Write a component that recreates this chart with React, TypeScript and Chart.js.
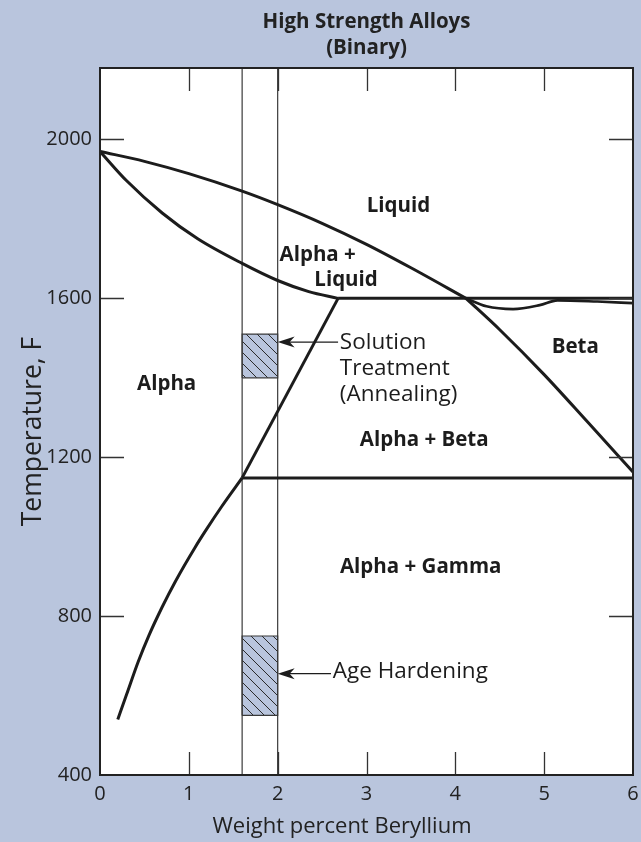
import React, { useEffect, useRef } from "react";
import { Chart, registerables } from "chart.js";

Chart.register(...registerables);

// ---- axes ----
const xTicks = [0, 1, 2, 3, 4, 5, 6];
const yTicks = [400, 800, 1200, 1600, 2000];
const xMin = 0;
const xMax = 6;
const yMin = 400;
const yMax = 2180;

// ---- phase boundaries (wt% Be, °F) ----
const liquidusX = [0, 0.5, 1.0, 1.6, 2.0, 2.5, 3.0, 3.5, 4.12];
const liquidusY = [1970, 1945, 1914, 1870, 1836, 1789, 1736, 1677, 1600];
const betaSolvusX = [4.12, 4.5, 5.0, 5.5, 6.0];
const betaSolvusY = [1600, 1521, 1408, 1286, 1163];
const solidusX = [0, 0.3, 0.7, 1.1, 1.6, 2.0, 2.35, 2.68];
const solidusY = [1970, 1896, 1815, 1750, 1688, 1645, 1617, 1600];
const peritecticX = [2.68, 6.0];
const peritecticY = [1600, 1600];
const betaDipX = [4.12, 4.35, 4.65, 4.95, 5.15, 5.6, 6.0];
const betaDipY = [1600, 1580, 1573, 1583, 1595, 1592, 1588];
const alphaUpperX = [1.6, 2.68];
const alphaUpperY = [1148, 1600];
const alphaSolvusX = [0.2, 0.3, 0.43, 0.55, 0.7, 0.85, 1.07, 1.2, 1.37, 1.6];
const alphaSolvusY = [540, 603, 685, 751, 823, 888, 973, 1019, 1076, 1148];
const eutectoidX = [1.6, 6.0];
const eutectoidY = [1148, 1148];

// ---- alloy composition range and heat-treatment boxes ----
const alloyLimitsX = [1.6, 2.0];
const solutionBoxY = [1400, 1510];
const ageBoxY = [550, 750];

// ---- text ----
const titleLines = ["High Strength Alloys", "(Binary)"];
const xTitle = "Weight percent Beryllium";
const yTitle = "Temperature, F";
const regionLabels = ["Liquid", "Alpha +", "Liquid", "Beta", "Alpha", "Alpha + Beta", "Alpha + Gamma"];
const regionX = [3.36, 2.45, 2.77, 5.35, 0.75, 3.65, 3.61];
const regionY = [1831, 1708, 1645, 1476, 1383, 1244, 924];
const noteLabels = ["Solution", "Treatment", "(Annealing)", "Age Hardening"];
const noteX = [2.7, 2.7, 2.7, 2.62];
const noteY = [1489, 1423, 1358, 660];
const arrowFromX = [2.68, 2.6];
const arrowToX = [2.0, 2.0];
const arrowY = [1490, 655];

const BG = "#b9c5dd";
const INK = "#1c1c1c";
const FONT = "'Open Sans'";

const pts = (xs: number[], ys: number[]) => xs.map((x, i) => ({ x, y: ys[i] }));
const boxPts = (x0: number, x1: number, y0: number, y1: number) => [
  { x: x0, y: y0 },
  { x: x1, y: y0 },
  { x: x1, y: y1 },
  { x: x0, y: y1 },
  { x: x0, y: y0 },
];

export default function App() {
  const ref = useRef<HTMLCanvasElement | null>(null);

  useEffect(() => {
    document.body.style.margin = "0";
    document.body.style.background = BG;
    const canvas = ref.current!;
    const ctx0 = canvas.getContext("2d")!;

    const tile = document.createElement("canvas");
    tile.width = 11;
    tile.height = 11;
    const t = tile.getContext("2d")!;
    t.fillStyle = BG;
    t.fillRect(0, 0, 11, 11);
    t.strokeStyle = "#2a2a2a";
    t.lineWidth = 1;
    t.beginPath();
    t.moveTo(-2, -2);
    t.lineTo(13, 13);
    t.moveTo(-2, 9);
    t.lineTo(2, 13);
    t.moveTo(9, -2);
    t.lineTo(13, 2);
    t.stroke();
    const hatch = ctx0.createPattern(tile, "repeat");

    const curve = (xs: number[], ys: number[], smooth: boolean) => ({
      data: pts(xs, ys),
      showLine: true,
      borderColor: INK,
      borderWidth: 3,
      pointRadius: 0,
      cubicInterpolationMode: smooth ? "monotone" : "default",
      tension: 0,
      fill: false,
    });

    const decor = {
      id: "decor",
      beforeDraw(chart: any) {
        const { ctx, chartArea: a, width, height } = chart;
        ctx.save();
        ctx.fillStyle = BG;
        ctx.fillRect(0, 0, width, height);
        ctx.fillStyle = "#ffffff";
        ctx.fillRect(a.left, a.top, a.right - a.left, a.bottom - a.top);
        ctx.restore();
      },
      afterDatasetsDraw(chart: any) {
        const { ctx, chartArea: a } = chart;
        const xs = chart.scales.x;
        const ys = chart.scales.y;
        ctx.save();
        // inner tick marks
        ctx.strokeStyle = "#333";
        ctx.lineWidth = 1.3;
        ctx.beginPath();
        xTicks.forEach((v) => {
          if (v <= xMin || v >= xMax) return;
          const px = Math.round(xs.getPixelForValue(v)) + 0.5;
          ctx.moveTo(px, a.bottom);
          ctx.lineTo(px, a.bottom - 23);
          ctx.moveTo(px, a.top);
          ctx.lineTo(px, a.top + 23);
        });
        yTicks.forEach((v) => {
          if (v <= yMin || v >= yMax) return;
          const py = Math.round(ys.getPixelForValue(v)) + 0.5;
          ctx.moveTo(a.left, py);
          ctx.lineTo(a.left + 24, py);
          ctx.moveTo(a.right - 24, py);
          ctx.lineTo(a.right, py);
        });
        ctx.stroke();
        // frame
        ctx.strokeStyle = "#222";
        ctx.lineWidth = 2;
        ctx.strokeRect(a.left, a.top, a.right - a.left, a.bottom - a.top);
        // arrows
        ctx.strokeStyle = INK;
        ctx.fillStyle = INK;
        ctx.lineWidth = 1.2;
        arrowY.forEach((yv, i) => {
          const py = ys.getPixelForValue(yv);
          const x0 = xs.getPixelForValue(arrowFromX[i]);
          const x1 = xs.getPixelForValue(arrowToX[i]);
          ctx.beginPath();
          ctx.moveTo(x0, py);
          ctx.lineTo(x1 + 8, py);
          ctx.stroke();
          ctx.beginPath();
          ctx.moveTo(x1, py);
          ctx.lineTo(x1 + 17, py - 5.5);
          ctx.lineTo(x1 + 12, py);
          ctx.lineTo(x1 + 17, py + 5.5);
          ctx.closePath();
          ctx.fill();
        });
        // region labels
        ctx.fillStyle = INK;
        ctx.font = `bold 20.5px ${FONT}`;
        ctx.textAlign = "center";
        ctx.textBaseline = "middle";
        regionLabels.forEach((s, i) => {
          ctx.fillText(s, xs.getPixelForValue(regionX[i]), ys.getPixelForValue(regionY[i]));
        });
        // notes
        ctx.font = `22.5px ${FONT}`;
        ctx.textAlign = "left";
        noteLabels.forEach((s, i) => {
          ctx.fillText(s, xs.getPixelForValue(noteX[i]), ys.getPixelForValue(noteY[i]));
        });
        // chart title
        ctx.fillStyle = "#222";
        ctx.font = `bold 20.5px ${FONT}`;
        ctx.textAlign = "center";
        ctx.textBaseline = "alphabetic";
        const cx = (a.left + a.right) / 2;
        titleLines.forEach((s, i) => ctx.fillText(s, cx, 28 + i * 26));
        // axis titles
        ctx.font = `22px ${FONT}`;
        ctx.textBaseline = "middle";
        ctx.fillText(xTitle, a.left + 242, a.bottom + 52);
        ctx.save();
        ctx.translate(33, (a.top + a.bottom) / 2 + 10);
        ctx.rotate(-Math.PI / 2);
        ctx.font = `26.5px ${FONT}`;
        ctx.fillText(yTitle, 0, 0);
        ctx.restore();
        ctx.restore();
      },
    };

    const chart = new Chart(canvas, {
      type: "scatter",
      data: {
        datasets: [
          curve(liquidusX, liquidusY, true),
          curve(betaSolvusX, betaSolvusY, true),
          curve(solidusX, solidusY, true),
          curve(peritecticX, peritecticY, false),
          { ...curve(betaDipX, betaDipY, true), borderWidth: 2.6 },
          curve(alphaUpperX, alphaUpperY, false),
          curve(alphaSolvusX, alphaSolvusY, true),
          curve(eutectoidX, eutectoidY, false),
          ...alloyLimitsX.map((xv) => ({
            data: [
              { x: xv, y: yMin },
              { x: xv, y: yMax },
            ],
            showLine: true,
            borderColor: "#3a3a3a",
            borderWidth: 1.2,
            pointRadius: 0,
            fill: false,
          })),
          ...[solutionBoxY, ageBoxY].map((b) => ({
            data: boxPts(alloyLimitsX[0], alloyLimitsX[1], b[0], b[1]),
            showLine: true,
            borderColor: "#3a3a3a",
            borderWidth: 1.2,
            backgroundColor: hatch,
            pointRadius: 0,
            fill: "shape",
          })),
        ] as any,
      },
      options: {
        responsive: false,
        animation: false,
        layout: { padding: { top: 68, right: 8, left: 0, bottom: 0 } },
        plugins: {
          legend: { display: false },
          tooltip: { enabled: false },
          title: { display: false },
        },
        scales: {
          x: {
            type: "linear",
            min: xMin,
            max: xMax,
            grid: { display: false, drawTicks: false },
            border: { display: false },
            afterBuildTicks: (s: any) => {
              s.ticks = xTicks.map((v) => ({ value: v }));
            },
            afterFit: (s: any) => {
              s.height = 67;
              s.paddingLeft = 0;
              s.paddingRight = 0;
            },
            ticks: {
              color: "#222",
              padding: 7,
              font: { family: FONT, size: 20 },
              maxRotation: 0,
            },
            title: { display: false },
          },
          y: {
            type: "linear",
            min: yMin,
            max: yMax,
            grid: { display: false, drawTicks: false },
            border: { display: false },
            afterBuildTicks: (s: any) => {
              s.ticks = yTicks.map((v) => ({ value: v }));
            },
            afterFit: (s: any) => {
              s.width = 100;
            },
            ticks: {
              color: "#222",
              padding: 8,
              font: { family: FONT, size: 20 },
              callback: (v: any) => String(v),
            },
            title: { display: false },
          },
        },
      } as any,
      plugins: [decor],
    });

    return () => chart.destroy();
  }, []);

  return <canvas ref={ref} width={641} height={842} style={{ display: "block" }} />;
}
